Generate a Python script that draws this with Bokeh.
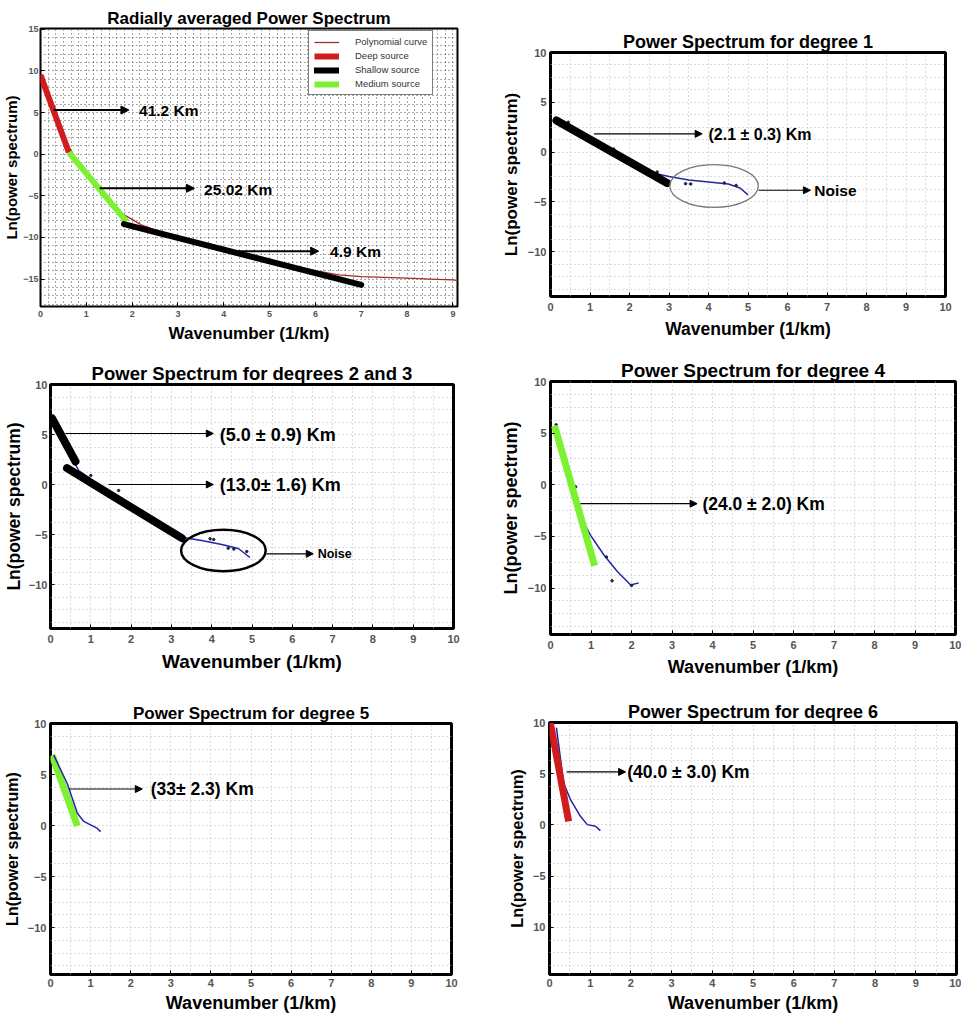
from bokeh.plotting import figure
from bokeh.models import (Range1d, FixedTicker, SingleIntervalTicker, Arrow, NormalHead,
                          Legend, LegendItem)
from bokeh.layouts import column, row
from bokeh.embed import file_html
from bokeh.resources import INLINE
from bokeh.core.properties import value

FONT = "Liberation Sans"
RED = "#d01c1c"
GREEN = "#7ef032"
BLUE = "#2424a8"

# ---------------- Panel 1: radially averaged power spectrum ----------------
p1_poly_x = [0.0, 0.3, 0.6, 0.9, 1.2, 1.5, 1.8, 2.2, 2.6, 3.0, 3.5, 4.0, 4.5, 5.0, 5.5, 6.0, 6.5, 7.0, 7.5, 8.0, 8.5, 9.0, 9.3]
p1_poly_y = [9.5, 5.4, 1.0, -1.6, -3.9, -5.8, -7.2, -8.5, -9.3, -9.9, -10.6, -11.3, -12.0, -12.7, -13.4, -14.0, -14.5, -14.7, -14.8, -14.9, -15.0, -15.1, -15.3]
p1_deep_x = [0.0, 0.62]
p1_deep_y = [9.5, 0.2]
p1_medium_x = [0.62, 1.88]
p1_medium_y = [0.2, -8.1]
p1_shallow_x = [1.82, 7.0]
p1_shallow_y = [-8.4, -15.7]
p1_arrow_x0 = [0.29, 1.29, 4.29]
p1_arrow_x1 = [1.93, 3.36, 6.07]
p1_arrow_y = [5.3, -4.1, -11.65]
p1_label_x = [2.15, 3.57, 6.32]
p1_label_y = [5.3, -4.2, -11.7]
p1_labels = ["41.2 Km", "25.02 Km", "4.9 Km"]

# ---------------- Panel 2: degree 1 ----------------
p2_fit_x = [0.15, 2.95]
p2_fit_y = [3.17, -3.1]
p2_curve_x = [0.15, 1.0, 2.0, 2.6, 3.0, 3.5, 4.0, 4.5, 4.8, 5.0]
p2_curve_y = [3.2, 1.3, -0.9, -2.1, -2.45, -2.8, -3.0, -3.2, -3.6, -4.3]
p2_dots_x = [0.45, 1.6, 2.7, 3.42, 3.55, 4.4, 4.7]
p2_dots_y = [3.0, 0.3, -2.0, -3.17, -3.2, -3.1, -3.35]
p2_noise_x, p2_noise_y, p2_noise_w, p2_noise_h = 4.14, -3.4, 2.24, 4.3
p2_arrow_x0 = [1.1, 5.27]
p2_arrow_x1 = [3.84, 6.58]
p2_arrow_y = [1.83, -3.83]
p2_label_x = [4.0, 6.68]
p2_label_y = [1.75, -3.9]
p2_labels = ["(2.1 \u00b1 0.3) Km", "Noise"]

# ---------------- Panel 3: degrees 2 and 3 ----------------
p3_fit1_x = [0.04, 0.62]
p3_fit1_y = [6.6, 2.3]
p3_fit2_x = [0.41, 3.26]
p3_fit2_y = [1.63, -5.37]
p3_curve_x = [0.04, 0.4, 0.7, 1.2, 2.0, 2.8, 3.3, 3.75, 4.25, 4.66, 4.95]
p3_curve_y = [6.5, 3.6, 1.4, 0.0, -2.2, -4.3, -5.3, -5.6, -6.0, -6.4, -7.3]
p3_dots_x = [1.0, 1.69, 3.96, 4.05, 4.41, 4.55, 4.87]
p3_dots_y = [0.9, -0.6, -5.43, -5.5, -6.37, -6.45, -6.7]
p3_noise_x, p3_noise_y, p3_noise_w, p3_noise_h = 4.29, -6.6, 2.1, 4.17
p3_arrow_x0 = [0.37, 1.44, 5.36]
p3_arrow_x1 = [4.04, 4.04, 6.52]
p3_arrow_y = [5.1, 0.0, -6.93]
p3_label_x = [4.2, 4.2, 6.63]
p3_label_y = [4.95, 0.0, -6.93]
p3_labels = ["(5.0  \u00b1 0.9) Km", "(13.0\u00b1 1.6) Km", "Noise"]

# ---------------- Panel 4: degree 4 ----------------
p4_fit_x = [0.1, 1.09]
p4_fit_y = [5.72, -7.85]
p4_curve_x = [0.6, 0.8, 0.99, 1.32, 1.65, 1.98, 2.18]
p4_curve_y = [-1.5, -3.5, -4.9, -6.8, -8.4, -9.7, -9.5]
p4_dots_x = [0.14, 0.62, 1.38, 1.52, 2.0]
p4_dots_y = [5.8, -0.2, -7.0, -9.3, -9.75]
p4_arrow_x0 = [0.74]
p4_arrow_x1 = [3.62]
p4_arrow_y = [-1.83]
p4_label_x = [3.75]
p4_label_y = [-1.9]
p4_labels = ["(24.0 \u00b1 2.0) Km"]

# ---------------- Panel 5: degree 5 ----------------
p5_fit_x = [0.04, 0.67]
p5_fit_y = [6.9, -0.03]
p5_curve_x = [0.08, 0.42, 0.67, 0.83, 1.0, 1.16, 1.25]
p5_curve_y = [6.9, 4.1, 1.2, 0.4, 0.07, -0.26, -0.6]
p5_arrow_x0 = [0.46]
p5_arrow_x1 = [2.29]
p5_arrow_y = [3.58]
p5_label_x = [2.5]
p5_label_y = [3.55]
p5_labels = ["(33\u00b1 2.3) Km"]

# ---------------- Panel 6: degree 6 ----------------
p6_fit_x = [0.02, 0.47]
p6_fit_y = [10.0, 0.35]
p6_curve_x = [0.17, 0.35, 0.52, 0.76, 0.93, 1.13, 1.25]
p6_curve_y = [9.5, 4.05, 2.44, 0.84, 0.03, -0.13, -0.55]
p6_arrow_x0 = [0.42]
p6_arrow_x1 = [1.87]
p6_arrow_y = [5.18]
p6_label_x = [1.91]
p6_label_y = [5.15]
p6_labels = ["(40.0 \u00b1 3.0) Km"]

titles = ["Radially averaged Power Spectrum", "Power Spectrum for degree 1",
          "Power Spectrum for deqrees 2 and 3", "Power Spectrum for degree 4",
          "Power Spectrum for degree 5", "Power Spectrum for deqree 6"]
x_label = "Wavenumber (1/km)"
y_label = "Ln(power spectrum)"


def make_fig(title, w, h, borders, xr, yr, xticks, yticks, gx, gy, gcolor,
             title_px="18px", xlab_px="18px", ylab_px="17px", tick_px="11px", outline=3,
             x_std=(6, 5), y_std=(4, 4)):
    top, right, bottom, left = borders
    p = figure(width=w, height=h, output_backend="svg", toolbar_location=None,
               x_range=Range1d(*xr), y_range=Range1d(*yr), frame_align=False,
               min_border_top=top, min_border_right=right,
               min_border_bottom=bottom, min_border_left=left)
    p.title.text = title
    p.title.text_font = FONT
    p.title.text_font_size = title_px
    p.title.text_font_style = "bold"
    p.title.align = "center"
    p.title.text_color = "black"
    p.title.standoff = 2
    p.outline_line_color = "black"
    p.outline_line_width = outline
    p.outline_line_alpha = 1
    for ax, ticks, lab_px, std in ((p.xaxis[0], xticks, xlab_px, x_std),
                                   (p.yaxis[0], yticks, ylab_px, y_std)):
        ax.ticker = FixedTicker(ticks=ticks)
        ax.axis_line_color = None
        ax.major_tick_in = 4
        ax.major_tick_out = 0
        ax.major_tick_line_color = "black"
        ax.minor_tick_line_color = None
        ax.major_label_text_font = FONT
        ax.major_label_text_font_size = tick_px
        ax.major_label_text_font_style = "bold"
        ax.major_label_text_color = "#555555"
        ax.major_label_standoff = std[0]
        ax.axis_label_text_font = FONT
        ax.axis_label_text_font_size = lab_px
        ax.axis_label_text_font_style = "bold"
        ax.axis_label_text_color = "black"
        ax.axis_label_standoff = std[1]
    p.xaxis.axis_label = x_label
    p.yaxis.axis_label = y_label
    p.xgrid.ticker = SingleIntervalTicker(interval=gx)
    p.ygrid.ticker = SingleIntervalTicker(interval=gy)
    for g in (p.xgrid[0], p.ygrid[0]):
        g.grid_line_color = gcolor
        g.grid_line_dash = "1 3"
        g.grid_line_width = 1
    return p


def add_arrows(p, x0, x1, y, head=8, lw=1.5):
    for a, b, c in zip(x0, x1, y):
        p.add_layout(Arrow(end=NormalHead(size=head, fill_color="black", line_color="black"),
                           x_start=a, y_start=c, x_end=b, y_end=c,
                           line_color="black", line_width=lw))


def add_labels(p, xs, ys, texts, size="14px"):
    p.text(x=xs, y=ys, text=texts, text_font=value(FONT), text_font_style="bold",
           text_font_size=size, text_baseline="middle", text_align="left", text_color="black")


xt10 = list(range(0, 11))
yt10 = [-10, -5, 0, 5, 10]

# Panel 1
p1 = make_fig(titles[0], 483, 348, (28, 26, 42, 38), (0, 9.1), (-18.3, 15.1),
              list(range(0, 10)), [-15, -10, -5, 0, 5, 10, 15], 1 / 6, 1, "#555555",
              title_px="17px", xlab_px="17px", ylab_px="15px", tick_px="9px", outline=2,
              x_std=(4, 4), y_std=(2, 0))
r_poly = p1.line(p1_poly_x, p1_poly_y, line_color="#a52a2a", line_width=1.3)
r_deep = p1.line(p1_deep_x, p1_deep_y, line_color=RED, line_width=6)
r_med = p1.line(p1_medium_x, p1_medium_y, line_color=GREEN, line_width=6)
r_sh = p1.line(p1_shallow_x, p1_shallow_y, line_color="black", line_width=6, line_cap="round")
add_arrows(p1, p1_arrow_x0, p1_arrow_x1, p1_arrow_y, head=8, lw=2)
add_labels(p1, p1_label_x, p1_label_y, p1_labels, size="15.5px")
legend = Legend(items=[LegendItem(label="Polynomial curve", renderers=[r_poly]),
                       LegendItem(label="Deep source", renderers=[r_deep]),
                       LegendItem(label="Shallow source", renderers=[r_sh]),
                       LegendItem(label="Medium source", renderers=[r_med])],
                location=(268, 211), label_text_font=FONT, label_text_font_size="9.5px",
                label_text_color="#333333", glyph_width=25, glyph_height=8,
                label_height=10, spacing=3, padding=5, label_standoff=16,
                border_line_color="black", border_line_width=1.5,
                background_fill_color="white", background_fill_alpha=1)
p1.add_layout(legend)

# Panel 2
p2 = make_fig(titles[1], 478, 348, (52, 16, 52, 67), (0, 10), (-14.5, 10),
              xt10, yt10, 0.5, 1.25, "#bbbbbb", title_px="18px", xlab_px="17.5px", ylab_px="17px")
p2.line(p2_curve_x, p2_curve_y, line_color=BLUE, line_width=1.5)
p2.scatter(p2_dots_x, p2_dots_y, size=2.5, color="#222244")
p2.line(p2_fit_x, p2_fit_y, line_color="black", line_width=8, line_cap="round")
p2.ellipse(x=[p2_noise_x], y=[p2_noise_y], width=[p2_noise_w], height=[p2_noise_h],
           fill_color=None, line_color="#777777", line_width=1.3)
add_arrows(p2, p2_arrow_x0, p2_arrow_x1, p2_arrow_y, head=7, lw=1.2)
add_labels(p2, p2_label_x[:1], p2_label_y[:1], p2_labels[:1], size="16px")
add_labels(p2, p2_label_x[1:], p2_label_y[1:], p2_labels[1:], size="15.5px")

# Panel 3
p3 = make_fig(titles[2], 483, 338, (36, 30, 58, 48), (0, 10), (-14.4, 10),
              xt10, yt10, 0.5, 1.25, "#bbbbbb", title_px="18.5px", xlab_px="19px", ylab_px="17.5px",
              y_std=(3, 2))
p3.line(p3_curve_x, p3_curve_y, line_color=BLUE, line_width=1.5)
p3.scatter(p3_dots_x, p3_dots_y, size=2.5, color="#222244")
p3.line(p3_fit1_x, p3_fit1_y, line_color="black", line_width=8, line_cap="round")
p3.line(p3_fit2_x, p3_fit2_y, line_color="black", line_width=8, line_cap="round")
p3.ellipse(x=[p3_noise_x], y=[p3_noise_y], width=[p3_noise_w], height=[p3_noise_h],
           fill_color=None, line_color="black", line_width=2.5)
add_arrows(p3, p3_arrow_x0, p3_arrow_x1, p3_arrow_y, head=7, lw=1.2)
add_labels(p3, p3_label_x[:2], p3_label_y[:2], p3_labels[:2], size="18px")
add_labels(p3, p3_label_x[2:], p3_label_y[2:], p3_labels[2:], size="12.5px")

# Panel 4
p4 = make_fig(titles[3], 478, 338, (33, 6, 52, 67), (0, 10), (-14.5, 10),
              xt10, yt10, 0.5, 1.25, "#bbbbbb", title_px="19px", xlab_px="18px", ylab_px="18px")
p4.line(p4_curve_x, p4_curve_y, line_color=BLUE, line_width=1.5)
p4.scatter(p4_dots_x, p4_dots_y, size=2.5, color="#222244")
p4.line(p4_fit_x, p4_fit_y, line_color=GREEN, line_width=7)
add_arrows(p4, p4_arrow_x0, p4_arrow_x1, p4_arrow_y, head=7, lw=1.2)
add_labels(p4, p4_label_x, p4_label_y, p4_labels, size="17.5px")

# Panel 5
p5 = make_fig(titles[4], 483, 329, (37, 32, 39, 50), (0, 10), (-14.6, 10),
              xt10, yt10, 0.5, 1.25, "#bbbbbb", title_px="17px", xlab_px="18px", ylab_px="16px",
              x_std=(4, 3))
p5.line(p5_fit_x, p5_fit_y, line_color=GREEN, line_width=7)
p5.line(p5_curve_x, p5_curve_y, line_color=BLUE, line_width=1.5)
add_arrows(p5, p5_arrow_x0, p5_arrow_x1, p5_arrow_y, head=7, lw=1.2)
add_labels(p5, p5_label_x, p5_label_y, p5_labels, size="17.5px")

# Panel 6
p6 = make_fig(titles[5], 478, 329, (36, 5, 39, 66), (0, 10), (-14.6, 10),
              xt10, yt10, 0.5, 1.25, "#bbbbbb", title_px="18px", xlab_px="18px", ylab_px="16.5px",
              x_std=(4, 3))
p6.yaxis[0].major_label_overrides = {-10: "10"}
p6.line(p6_curve_x, p6_curve_y, line_color=BLUE, line_width=1.5)
p6.line(p6_fit_x, p6_fit_y, line_color=RED, line_width=7)
add_arrows(p6, p6_arrow_x0, p6_arrow_x1, p6_arrow_y, head=7, lw=1.2)
add_labels(p6, p6_label_x, p6_label_y, p6_labels, size="17.5px")

layout = column(row(p1, p2), row(p3, p4), row(p5, p6))
open("out.html", "w").write(file_html(layout, INLINE))
